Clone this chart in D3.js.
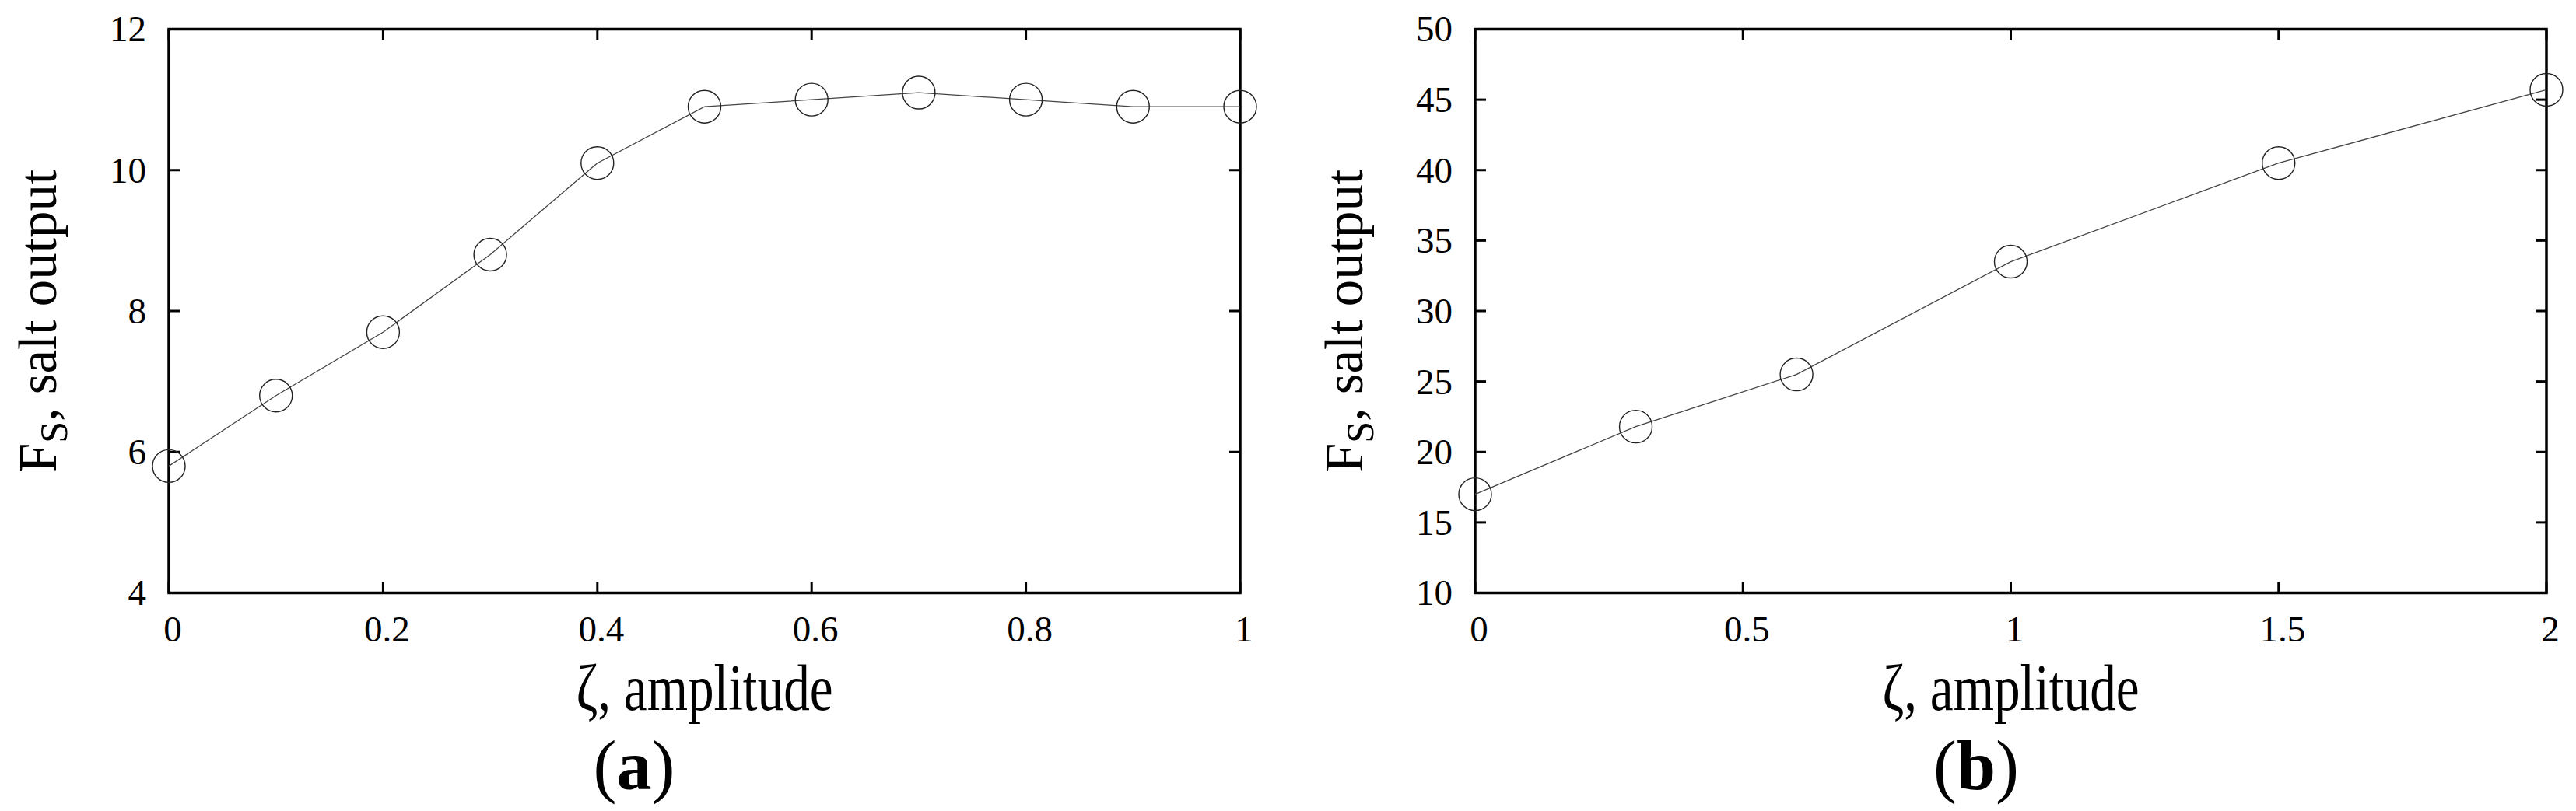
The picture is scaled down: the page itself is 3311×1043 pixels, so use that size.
<!DOCTYPE html>
<html>
<head>
<meta charset="utf-8">
<script src="https://cdn.jsdelivr.net/npm/d3@7"></script>
<style>
  body { margin: 0; background: #fff; }
  svg { display: block; }
  text { font-family: "Liberation Serif", "DejaVu Serif", serif; fill: #000; }
</style>
</head>
<body>
<svg id="chart" width="3311" height="1043"></svg>
<script>
// panel (a)
const ampA = [0, 0.1, 0.2, 0.3, 0.4, 0.5, 0.6, 0.7, 0.8, 0.9, 1];
const saltA = [5.8, 6.8, 7.7, 8.8, 10.1, 10.9, 11.0, 11.1, 11.0, 10.9, 10.9];
const xTicksA = [0, 0.2, 0.4, 0.6, 0.8, 1];
const yTicksA = [4, 6, 8, 10, 12];

// panel (b)
const ampB = [0, 0.3, 0.6, 1, 1.5, 2];
const saltB = [17.0, 21.8, 25.5, 33.5, 40.5, 45.7];
const xTicksB = [0, 0.5, 1, 1.5, 2];
const yTicksB = [10, 15, 20, 25, 30, 35, 40, 45, 50];

const xTitle = "ζ, amplitude";
const yTitleMain = "F";
const yTitleSub = "S";
const yTitleRest = ", salt output";

const svg = d3.select("#chart");
const TICK = 14;
const plotTop = 37.5, plotBottom = 762.5;

function drawPanel(opt) {
    const g = svg.append("g");
    const x = d3.scaleLinear().domain(opt.xDomain).range([opt.left, opt.right]);
    const y = d3.scaleLinear().domain(opt.yDomain).range([plotBottom, plotTop]);

    // mirrored inward ticks
    const ticks = g.append("g").attr("stroke", "#000").attr("stroke-width", 3);
    opt.xTicks.forEach(t => {
        ticks.append("line").attr("x1", x(t)).attr("x2", x(t)).attr("y1", plotBottom).attr("y2", plotBottom - TICK);
        ticks.append("line").attr("x1", x(t)).attr("x2", x(t)).attr("y1", plotTop).attr("y2", plotTop + TICK);
    });
    opt.yTicks.forEach(t => {
        ticks.append("line").attr("x1", opt.left).attr("x2", opt.left + TICK).attr("y1", y(t)).attr("y2", y(t));
        ticks.append("line").attr("x1", opt.right).attr("x2", opt.right - TICK).attr("y1", y(t)).attr("y2", y(t));
    });

    g.append("rect")
        .attr("x", opt.left).attr("y", plotTop)
        .attr("width", opt.right - opt.left).attr("height", plotBottom - plotTop)
        .attr("fill", "none").attr("stroke", "#000").attr("stroke-width", 3.5);

    // tick labels
    g.selectAll(".xl").data(opt.xTicks).join("text")
        .attr("x", d => x(d) + 5).attr("y", 825)
        .attr("text-anchor", "middle").attr("font-size", 47)
        .text(d => d);
    g.selectAll(".yl").data(opt.yTicks).join("text")
        .attr("x", opt.left - 29).attr("y", d => y(d)).attr("dy", "0.34em")
        .attr("text-anchor", "end").attr("font-size", 47)
        .text(d => d);

    // series
    const pts = opt.xs.map((v, i) => [v, opt.ys[i]]);
    g.append("path")
        .attr("d", d3.line().x(d => x(d[0])).y(d => y(d[1]))(pts))
        .attr("fill", "none").attr("stroke", "#444").attr("stroke-width", 1.3);
    g.selectAll("circle").data(pts).join("circle")
        .attr("cx", d => x(d[0])).attr("cy", d => y(d[1])).attr("r", 21)
        .attr("fill", "none").attr("stroke", "#222").attr("stroke-width", 1.4);

    // axis titles
    const cx = (opt.left + opt.right) / 2;
    g.append("text")
        .attr("transform", `translate(${cx},913) scale(0.8,1)`)
        .attr("text-anchor", "middle").attr("font-size", 84)
        .text(xTitle);

    const yt = g.append("text")
        .attr("transform", `translate(${opt.left - 145},413) rotate(-90)`)
        .attr("text-anchor", "middle").attr("font-size", 69);
    yt.append("tspan").text(yTitleMain);
    yt.append("tspan").attr("font-size", 50).attr("dy", 14).text(yTitleSub);
    yt.append("tspan").attr("dy", -14).text(yTitleRest);

    // caption
    const cap = g.append("text")
        .attr("x", opt.capX).attr("y", 1015)
        .attr("text-anchor", "middle").attr("font-size", 90);
    cap.append("tspan").text("(");
    cap.append("tspan").attr("font-weight", "bold").text(opt.caption);
    cap.append("tspan").text(")");
}

drawPanel({
    left: 217, right: 1594,
    xDomain: [0, 1], yDomain: [4, 12],
    xTicks: xTicksA, yTicks: yTicksA,
    xs: ampA, ys: saltA,
    caption: "a", capX: 815
});

drawPanel({
    left: 1896, right: 3273,
    xDomain: [0, 2], yDomain: [10, 50],
    xTicks: xTicksB, yTicks: yTicksB,
    xs: ampB, ys: saltB,
    caption: "b", capX: 2540
});
</script>
</body>
</html>
